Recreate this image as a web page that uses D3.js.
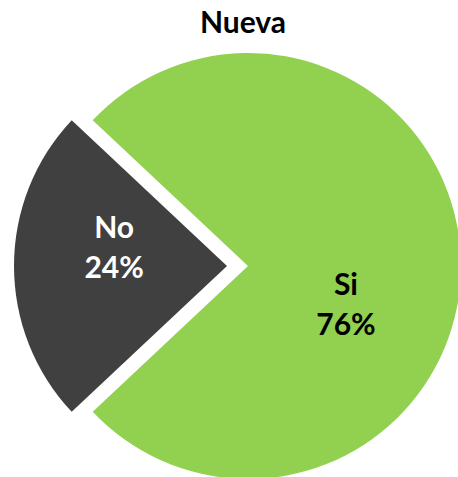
<!DOCTYPE html>
<html>
<head>
<meta charset="utf-8">
<script src="https://cdn.jsdelivr.net/npm/d3@7"></script>
<style>
  html, body { margin: 0; padding: 0; background: #fff; }
  svg { display: block; }
</style>
</head>
<body>
<svg id="chart" width="458" height="477"></svg>
<script>
const title = "Nueva";
const categories = ["Si", "No"];
const values = [76, 24];
const colors = ["#92D050", "#404040"];
const labelColors = ["#000000", "#ffffff"];
const explode = [0, 21];

const W = 458, H = 477;
const cx = 248, cy = 266, r = 213;
const svg = d3.select("#chart");

svg.append("text")
  .attr("x", 243).attr("y", 33)
  .attr("text-anchor", "middle")
  .attr("font-family", "Lato, 'Open Sans', sans-serif")
  .attr("font-weight", 700)
  .attr("font-size", 30)
  .attr("fill", "#000")
  .text(title);

const total = d3.sum(values);
// center the "No" slice on the 9 o'clock direction
const start = 1.5 * Math.PI - 2 * Math.PI * values[0] / total - Math.PI * values[1] / total;

const data = categories.map((c, i) => ({ cat: c, value: values[i], i }));
const pie = d3.pie().sort(null).value(d => d.value)
  .startAngle(start).endAngle(start + 2 * Math.PI);
const arcs = pie(data);
const arc = d3.arc().innerRadius(0).outerRadius(r);

const g = svg.append("g").attr("transform", `translate(${cx},${cy})`);

const slices = g.selectAll("g.slice").data(arcs).join("g")
  .attr("class", "slice")
  .attr("transform", d => {
    const a = (d.startAngle + d.endAngle) / 2;
    const e = explode[d.data.i];
    return `translate(${Math.sin(a) * e},${-Math.cos(a) * e})`;
  });

slices.append("path")
  .attr("d", arc)
  .attr("fill", d => colors[d.data.i]);

// label positions: radius fraction and vertical shift (Excel-like placement)
const labelR = [0.46, 0.53];
const labelShift = [49, -8];
slices.each(function(d) {
  const a = (d.startAngle + d.endAngle) / 2;
  const lr = r * labelR[d.data.i];
  const x = Math.sin(a) * lr;
  const y = -Math.cos(a) * lr + labelShift[d.data.i];
  const t = d3.select(this).append("text")
    .attr("text-anchor", "middle")
    .attr("font-family", "Lato, 'Open Sans', sans-serif")
    .attr("font-weight", 700)
    .attr("font-size", 30)
    .attr("fill", labelColors[d.data.i]);
  t.append("tspan").attr("x", x).attr("y", y - 20).text(d.data.cat);
  t.append("tspan").attr("x", x).attr("y", y + 20)
    .text(Math.round(d.value / total * 100) + "%");
});
</script>
</body>
</html>
